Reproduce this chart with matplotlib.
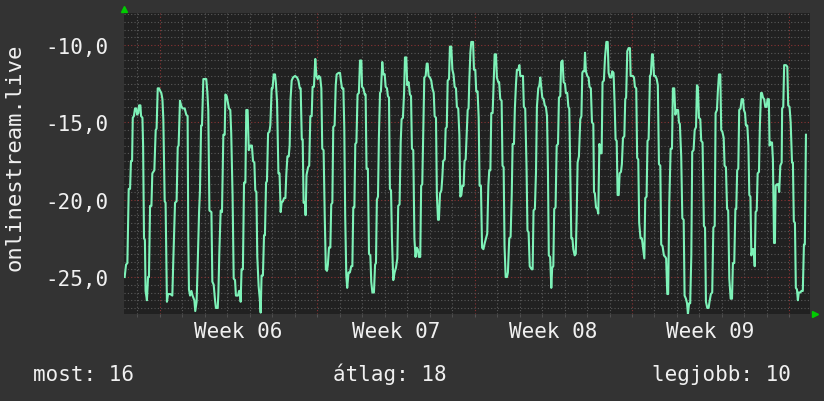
import numpy as np
import matplotlib
matplotlib.use("Agg")
from matplotlib import pyplot as plt

# time axis in days from the left edge of the plot
days = [
    0.03, 0.09, 0.15, 0.21, 0.27, 0.31, 0.36, 0.39, 0.44, 0.49, 0.55, 0.58, 0.64, 0.67, 0.73, 0.76, 0.82, 0.85, 0.89, 0.93, 0.96,
    1.02, 1.07, 1.11, 1.16, 1.22, 1.26, 1.35, 1.41, 1.45, 1.50, 1.56, 1.62, 1.66, 1.71, 1.75, 1.81, 1.85, 1.91, 1.96,
    2.06, 2.15, 2.19, 2.27, 2.34, 2.39, 2.43, 2.49, 2.54, 2.60, 2.70, 2.77, 2.83, 2.86, 2.89, 2.94,
    3.00, 3.05, 3.13, 3.17, 3.23, 3.28, 3.34, 3.38, 3.43, 3.47, 3.53, 3.66, 3.71, 3.75, 3.80, 3.89, 3.93, 3.99,
    4.05, 4.09, 4.17, 4.20, 4.24, 4.30, 4.36, 4.42, 4.48, 4.51, 4.57, 4.63, 4.67, 4.73, 4.77, 4.83, 4.88, 4.94, 4.98,
    5.04, 5.07, 5.12, 5.16, 5.19, 5.23, 5.29, 5.34, 5.40, 5.44, 5.50, 5.55, 5.62, 5.69, 5.74, 5.80, 5.84, 5.89, 5.93, 5.99,
    6.04, 6.08, 6.12, 6.18, 6.23, 6.27, 6.32, 6.36, 6.41, 6.47, 6.51, 6.57, 6.61, 6.66, 6.72, 6.76, 6.81, 6.87, 6.92, 6.97,
    7.01, 7.07, 7.12, 7.18, 7.22, 7.27, 7.33, 7.37, 7.41, 7.46, 7.52, 7.61, 7.70, 7.76, 7.82, 7.86, 7.91, 7.95, 7.99,
    8.05, 8.08, 8.12, 8.19, 8.24, 8.29, 8.35, 8.39, 8.45, 8.51, 8.56, 8.62, 8.67, 8.73, 8.78, 8.82, 8.88, 8.93, 8.98,
    9.03, 9.07, 9.12, 9.18, 9.22, 9.27, 9.31, 9.37, 9.42, 9.46, 9.55, 9.61, 9.65, 9.70, 9.76, 9.80, 9.84, 9.89, 9.93, 9.99,
    10.05, 10.11, 10.16, 10.20, 10.25, 10.29, 10.34, 10.39, 10.45, 10.50, 10.56, 10.59, 10.65, 10.71, 10.75, 10.79, 10.85, 10.90, 10.96,
    11.00, 11.05, 11.12, 11.17, 11.21, 11.25, 11.30, 11.34, 11.39, 11.43, 11.49, 11.54, 11.60, 11.64, 11.70, 11.74, 11.79, 11.83, 11.88, 11.92, 11.98,
    12.04, 12.10, 12.16, 12.20, 12.26, 12.31, 12.35, 12.41, 12.46, 12.50, 12.56, 12.60, 12.66, 12.72, 12.77, 12.81, 12.87, 12.92, 12.97,
    13.02, 13.07, 13.12, 13.18, 13.22, 13.27, 13.32, 13.36, 13.42, 13.47, 13.51, 13.55, 13.61, 13.67, 13.72, 13.78, 13.82, 13.88, 13.92, 13.97,
    14.01, 14.06, 14.12, 14.16, 14.20, 14.27, 14.31, 14.36, 14.40, 14.46, 14.50, 14.56, 14.61, 14.66, 14.71, 14.77, 14.81, 14.87, 14.92, 14.96,
    15.01, 15.05, 15.11, 15.15, 15.20, 15.24, 15.29, 15.33, 15.36, 15.41, 15.45, 15.53, 15.57, 15.63, 15.67, 15.73, 15.78, 15.82, 15.88, 15.93, 15.99,
    16.05, 16.12, 16.16, 16.21, 16.25, 16.30, 16.34, 16.40, 16.44, 16.49, 16.55, 16.59, 16.65, 16.69, 16.74, 16.80, 16.84, 16.89, 16.93, 16.98,
    17.04, 17.08, 17.14, 17.20, 17.25, 17.29, 17.35, 17.39, 17.44, 17.48, 17.54, 17.59, 17.63, 17.69, 17.75, 17.79, 17.85, 17.91, 17.95,
    18.00, 18.05, 18.09, 18.14, 18.18, 18.22, 18.28, 18.33, 18.37, 18.43, 18.48, 18.52, 18.57, 18.61, 18.67, 18.72, 18.77, 18.82, 18.86, 18.90, 18.96,
    19.01, 19.05, 19.10, 19.14, 19.20, 19.25, 19.31, 19.35, 19.41, 19.45, 19.51, 19.56, 19.62, 19.66, 19.72, 19.77, 19.81, 19.86, 19.90, 19.95, 19.99,
    20.05, 20.10, 20.14, 20.18, 20.24, 20.30, 20.35, 20.39, 20.42, 20.48, 20.51, 20.55, 20.61, 20.67, 20.71, 20.77, 20.82, 20.88, 20.91, 20.95,
    21.00, 21.06, 21.10, 21.15, 21.21, 21.25, 21.29, 21.35, 21.40, 21.46, 21.52, 21.56, 21.62, 21.68, 21.72, 21.78, 21.83, 21.87, 21.92, 21.96,
    22.01, 22.05, 22.11, 22.15, 22.20, 22.26, 22.30, 22.34, 22.39, 22.45, 22.51, 22.54, 22.60, 22.64, 22.69, 22.73, 22.79, 22.83, 22.88, 22.92, 22.98,
    23.04, 23.09, 23.15, 23.19, 23.25, 23.29, 23.34, 23.40, 23.44, 23.49, 23.53, 23.58, 23.64, 23.70, 23.75, 23.80, 23.86, 23.90, 23.96,
    24.02, 24.08, 24.12, 24.17, 24.21, 24.26, 24.32, 24.38, 24.42, 24.48, 24.53, 24.59, 24.65, 24.69, 24.73, 24.79, 24.84, 24.90, 24.94,
    25.00, 25.05, 25.09, 25.14, 25.19, 25.24, 25.28, 25.34, 25.39, 25.45, 25.49, 25.53, 25.58, 25.64, 25.68, 25.74, 25.80, 25.85, 25.89, 25.95,
    26.01, 26.05, 26.11, 26.17, 26.22, 26.28, 26.32, 26.38, 26.42, 26.47, 26.53, 26.57, 26.62, 26.68, 26.72, 26.78, 26.83, 26.88, 26.93, 26.99,
    27.05, 27.09, 27.15, 27.20, 27.24, 27.28, 27.33, 27.37, 27.43, 27.48, 27.54, 27.58, 27.63, 27.67, 27.73, 27.78, 27.82, 27.87, 27.91, 27.97,
    28.02, 28.06, 28.10, 28.15, 28.19, 28.25, 28.29, 28.34, 28.38, 28.43, 28.48, 28.53, 28.59, 28.63, 28.69, 28.72, 28.77, 28.83, 28.87, 28.92, 28.96, 28.99,
    29.05, 29.11, 29.15, 29.20, 29.26, 29.28, 29.33, 29.37, 29.45, 29.51, 29.55, 29.61, 29.66, 29.72, 29.76, 29.80, 29.85, 29.89, 29.94, 29.98,
    30.02, 30.09, 30.14, 30.20, 30.25, 30.29, 30.34,
]
values = [
    -25.0, -24.2, -24.1, -19.3, -19.3, -17.5, -17.5, -14.7, -14.6, -14.1, -14.1, -14.5, -14.4, -13.9, -13.9, -14.6, -14.7, -16.5, -22.5, -22.6, -25.9,
    -26.5, -25.0, -25.0, -20.4, -20.4, -18.3, -18.1, -15.5, -15.4, -12.8, -12.8, -13.0, -13.1, -13.5, -14.8, -20.1, -20.2, -26.6, -26.1,
    -26.1, -26.2, -24.1, -20.2, -20.1, -16.6, -16.5, -13.6, -13.9, -14.1, -14.1, -14.5, -14.6, -22.5, -25.8, -26.2,
    -25.9, -26.2, -26.5, -27.2, -26.6, -24.1, -20.8, -19.4, -15.2, -15.2, -12.2, -12.2, -13.1, -14.2, -20.7, -20.8, -25.3, -25.5,
    -26.5, -27.0, -27.0, -26.0, -23.5, -20.7, -20.8, -15.8, -15.8, -13.2, -13.3, -13.8, -14.1, -14.2, -15.7, -19.7, -25.1, -25.2, -26.2,
    -26.2, -26.2, -25.9, -25.9, -26.6, -24.5, -24.5, -18.9, -18.9, -14.2, -14.2, -16.8, -16.5, -16.5, -17.5, -17.6, -19.4, -19.5, -23.7, -25.6,
    -26.4, -27.3, -24.9, -24.9, -22.3, -22.3, -18.9, -18.8, -15.7, -15.6, -15.2, -12.8, -12.8, -11.9, -11.9, -12.5, -13.7, -18.3, -18.3, -20.8,
    -20.2, -20.1, -19.9, -19.9, -18.4, -17.2, -17.2, -16.5, -13.5, -12.3, -12.1, -12.0, -12.1, -12.3, -12.8, -12.8, -16.1, -16.1, -20.2,
    -20.2, -21.0, -18.4, -17.9, -17.8, -14.6, -14.6, -12.7, -12.7, -10.9, -12.0, -12.2, -12.0, -12.1, -12.8, -16.7, -16.8, -21.0, -24.5,
    -24.6, -24.2, -23.1, -23.1, -20.3, -20.2, -15.3, -15.2, -12.6, -11.9, -11.8, -11.8, -12.3, -12.8, -12.8, -15.3, -21.0, -24.9, -25.7, -24.7,
    -24.7, -24.3, -24.3, -20.5, -20.5, -16.4, -16.3, -13.2, -13.1, -11.0, -11.0, -12.7, -12.8, -13.2, -13.2, -18.0, -18.0, -23.5, -23.6,
    -25.3, -26.0, -26.0, -24.2, -24.1, -20.0, -19.8, -16.0, -13.1, -13.0, -11.1, -11.9, -11.9, -12.7, -12.8, -13.3, -13.4, -19.3, -19.4, -22.5, -25.2,
    -24.7, -24.4, -23.8, -20.4, -20.3, -16.3, -14.8, -14.7, -13.1, -10.8, -10.8, -12.6, -12.4, -13.2, -13.3, -16.7, -16.8, -22.5, -23.7,
    -23.1, -23.2, -23.7, -23.7, -19.1, -19.0, -15.2, -12.1, -12.0, -11.2, -11.2, -12.0, -12.1, -12.3, -12.8, -13.1, -14.6, -14.7, -19.7, -21.3,
    -21.3, -19.6, -19.4, -18.6, -17.5, -17.4, -15.4, -15.3, -12.3, -12.2, -10.1, -10.1, -11.6, -11.9, -12.7, -12.8, -14.0, -14.1, -15.8, -19.8,
    -19.7, -19.1, -19.1, -17.5, -17.4, -15.9, -14.2, -14.1, -12.4, -10.5, -9.8, -9.8, -11.6, -11.6, -13.0, -13.0, -14.7, -19.1, -19.1, -23.1, -23.2,
    -22.8, -22.4, -22.2, -19.1, -18.1, -18.1, -14.4, -14.4, -12.7, -10.6, -10.6, -12.1, -12.4, -12.4, -13.5, -13.6, -17.8, -17.9, -23.0, -25.0,
    -25.0, -24.7, -22.5, -22.4, -19.7, -16.4, -16.4, -14.1, -12.5, -11.6, -11.6, -11.3, -12.0, -12.0, -12.0, -14.0, -14.1, -18.0, -22.0,
    -22.1, -24.3, -24.4, -24.5, -24.5, -20.7, -20.6, -18.2, -14.0, -12.8, -12.6, -12.1, -12.8, -13.4, -13.5, -13.9, -14.0, -14.6, -18.0, -23.6, -23.7,
    -25.7, -24.4, -24.3, -20.6, -20.5, -16.5, -16.4, -13.4, -13.3, -11.1, -11.0, -12.4, -12.5, -13.1, -13.1, -14.0, -14.1, -18.7, -22.5, -22.5, -23.2,
    -23.6, -23.5, -21.0, -17.6, -17.2, -14.8, -14.6, -11.8, -11.7, -11.7, -10.5, -11.7, -12.0, -12.1, -12.7, -12.8, -15.0, -15.1, -19.5, -19.6,
    -20.5, -20.6, -20.9, -16.4, -17.0, -17.0, -12.4, -12.3, -10.8, -9.8, -9.8, -11.8, -12.1, -12.1, -11.7, -11.8, -13.9, -16.1, -16.2, -19.7,
    -19.7, -18.3, -18.2, -17.7, -16.0, -15.9, -13.5, -13.4, -10.4, -10.2, -10.2, -12.0, -12.0, -12.0, -12.1, -12.7, -12.8, -17.3, -17.4, -21.5, -22.5,
    -22.5, -23.1, -23.8, -19.9, -19.8, -16.2, -16.1, -12.0, -11.9, -10.6, -10.6, -12.0, -12.0, -12.2, -12.6, -17.7, -17.8, -22.9, -23.0,
    -23.6, -23.7, -23.8, -26.1, -26.1, -20.2, -16.7, -16.7, -12.8, -12.8, -14.5, -14.2, -14.2, -15.0, -15.1, -17.2, -21.2, -21.3, -26.2,
    -26.4, -26.7, -27.4, -26.7, -26.7, -23.6, -16.9, -16.8, -15.5, -15.3, -12.6, -12.7, -14.7, -14.8, -16.2, -16.3, -21.7, -21.8, -26.6, -27.0,
    -27.0, -26.6, -26.1, -26.0, -21.8, -21.7, -14.4, -14.2, -13.0, -11.9, -11.9, -15.5, -15.6, -16.0, -17.8, -17.9, -20.6, -20.7, -25.1, -26.4,
    -26.4, -24.1, -24.1, -20.6, -20.6, -18.1, -18.0, -14.2, -14.1, -13.5, -13.5, -14.2, -14.4, -15.2, -15.2, -16.5, -19.7, -19.8, -23.6, -23.2,
    -23.2, -24.3, -20.8, -20.7, -18.3, -18.2, -15.2, -13.1, -13.1, -13.4, -13.5, -14.0, -14.0, -13.5, -13.5, -16.5, -16.3, -16.3, -17.4, -22.8, -22.8, -19.1,
    -19.0, -19.0, -19.5, -17.8, -17.6, -14.1, -14.0, -11.3, -11.3, -11.4, -13.9, -14.0, -15.0, -17.6, -17.6, -21.4, -21.5, -25.7, -25.8, -26.5,
    -26.0, -26.0, -25.9, -25.9, -22.9, -22.9, -15.8,
]
assert len(days) == len(values)

week_labels = ["Week 06", "Week 07", "Week 08", "Week 09"]
ytick_values = [-25, -20, -15, -10]
ytick_labels = ["-25,0", "-20,0", "-15,0", "-10,0"]
series_name = "onlinestream.live"
stat_most = 16
stat_avg = 18
stat_best = 10

FONT = "DejaVu Sans Mono"
TXT = "#f0f0f0"
LINE = "#7ef2b8"

fig = plt.figure(figsize=(8.24, 4.02), dpi=100, facecolor="#333333")
ax = fig.add_axes([124 / 824, 1 - 315 / 402, 686 / 824, 301 / 402])
ax.set_facecolor("#212121")

x0, x1 = 0.0, 30.52
ax.set_xlim(x0, x1)
ax.set_ylim(-27.39, -7.93)

# grid: dotted grey for days / half units, dotted red for weeks / 5 units
week_lines = np.arange(1.60, x1, 7)
day_lines = np.arange(0.60, x1, 1)
ax.set_xticks(week_lines)
ax.set_xticks(day_lines, minor=True)
ax.set_xticklabels([])
ax.set_yticks(ytick_values)
ax.set_yticklabels(ytick_labels, family=FONT, fontsize=15, color=TXT)
ax.set_yticks(np.arange(-27.0, -7.9, 0.5), minor=True)
ax.grid(which="minor", color="#5a5a5a", linestyle=(0, (1, 2)), linewidth=0.8)
ax.grid(which="major", color="#8a3434", linestyle=(0, (1, 2)), linewidth=0.8)
ax.set_axisbelow(True)
ax.tick_params(axis="y", which="both", length=0, pad=11)
ax.tick_params(axis="x", which="both", length=2, color="#555555")
for s in ax.spines.values():
    s.set_visible(False)

ax.plot(days, values, color=LINE, lw=1.5, zorder=3)

# week labels sit in the middle of each week
for i, lab in enumerate(week_labels):
    ax.annotate(lab, xy=(week_lines[i] + 3.5, 0.159), xycoords=("data", "figure fraction"),
                ha="center", va="baseline", family=FONT, fontsize=15, color=TXT)

# axis arrows
ax.plot([0], [1.013], marker="^", color="#00cc00", ms=5, transform=ax.transAxes, clip_on=False)
ax.plot([1.008], [0], marker=">", color="#00cc00", ms=5, transform=ax.transAxes, clip_on=False)

fig.text(0.018, 0.608, series_name, rotation=90, ha="center", va="center",
         family=FONT, fontsize=16, color=TXT)

fig.text(33 / 824, 0.053, "most: %d" % stat_most, ha="left", va="baseline",
         family=FONT, fontsize=15, color=TXT)
fig.text(333 / 824, 0.053, "átlag: %d" % stat_avg, ha="left", va="baseline",
         family=FONT, fontsize=15, color=TXT)
fig.text(791 / 824, 0.053, "legjobb: %d" % stat_best, ha="right", va="baseline",
         family=FONT, fontsize=15, color=TXT)

fig.savefig("out.png", dpi=100, facecolor=fig.get_facecolor())
